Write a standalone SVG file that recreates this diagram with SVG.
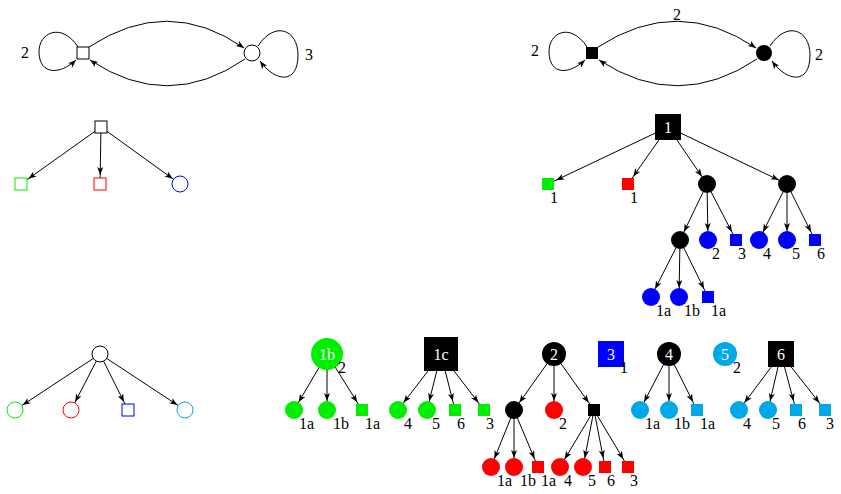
<svg xmlns="http://www.w3.org/2000/svg" width="841" height="494" viewBox="0 0 841 494">
<style>
text{font-family:"Liberation Serif","DejaVu Serif",serif;font-size:16px;fill:#000}
.w{fill:#fff;text-anchor:middle;dominant-baseline:central}
.l line,.l path{stroke:#000;stroke-width:1;fill:none}
.l line{marker-end:url(#a)}
.l path{marker-end:url(#e)}
.G{fill:#00ee00}.R{fill:#ff0000}.B{fill:#0000ff}.C{fill:#00a8e8}.K{fill:#000}
</style>
<defs>
<marker id="a" viewBox="-20 -5 30 10" markerWidth="30" markerHeight="10" refX="9" refY="0" markerUnits="userSpaceOnUse" orient="auto"><path d="M0,0 L-8,-3 L-6,0 L-8,3 z" fill="#000"/></marker>
<marker id="e" viewBox="-10 -5 20 10" markerWidth="20" markerHeight="10" refX="0" refY="0" markerUnits="userSpaceOnUse" orient="auto"><path d="M0,0 L-8,-3 L-6,0 L-8,3 z" fill="#000"/></marker>
</defs>
<g class="l" id="connectors">
<path d="M78,47 C62,22 38,32 39,53 C40,75 60,75 76,60"/>
<path d="M89,47 Q168,-5 244,48"/>
<path d="M245,59 Q168,112 90,60"/>
<path d="M258,46 C275,20 298,30 298,55 C298,85 275,82 260,61"/>
<path d="M587,47 C571,22 548,32 549,53 C550,75 569,75 585,60"/>
<path d="M598,47 Q678,-5 756,48"/>
<path d="M757,59 Q678,112 599,60"/>
<path d="M770,46 C787,20 810,30 810,55 C810,85 787,82 772,61"/>
<line x1="101" y1="127" x2="21" y2="184"/><line x1="101" y1="127" x2="100" y2="184"/><line x1="101" y1="127" x2="180" y2="184"/>
<line x1="668" y1="127" x2="548" y2="184"/><line x1="668" y1="127" x2="628" y2="184"/><line x1="668" y1="127" x2="707" y2="184"/><line x1="668" y1="127" x2="787" y2="184"/>
<line x1="707" y1="184" x2="680" y2="240"/><line x1="707" y1="184" x2="708" y2="240"/><line x1="707" y1="184" x2="736" y2="240"/>
<line x1="787" y1="184" x2="759" y2="240"/><line x1="787" y1="184" x2="787" y2="240"/><line x1="787" y1="184" x2="815" y2="240"/>
<line x1="680" y1="240" x2="651" y2="297"/><line x1="680" y1="240" x2="679" y2="297"/><line x1="680" y1="240" x2="708" y2="297"/>
<line x1="100" y1="354" x2="15" y2="410"/><line x1="100" y1="354" x2="71" y2="410"/><line x1="100" y1="354" x2="128" y2="410"/><line x1="100" y1="354" x2="185" y2="410"/>
<line x1="327" y1="354" x2="294" y2="410"/><line x1="327" y1="354" x2="327" y2="410"/><line x1="327" y1="354" x2="362" y2="410"/>
<line x1="441" y1="354" x2="398" y2="410"/><line x1="441" y1="354" x2="427" y2="410"/><line x1="441" y1="354" x2="455" y2="410"/><line x1="441" y1="354" x2="484" y2="410"/>
<line x1="554" y1="354" x2="514" y2="410"/><line x1="554" y1="354" x2="554" y2="410"/><line x1="554" y1="354" x2="594" y2="410"/>
<line x1="514" y1="410" x2="491" y2="467"/><line x1="514" y1="410" x2="514" y2="467"/><line x1="514" y1="410" x2="538" y2="467"/>
<line x1="594" y1="410" x2="560" y2="467"/><line x1="594" y1="410" x2="583" y2="467"/><line x1="594" y1="410" x2="605" y2="467"/><line x1="594" y1="410" x2="628" y2="467"/>
<line x1="669" y1="354" x2="640" y2="410"/><line x1="669" y1="354" x2="669" y2="410"/><line x1="669" y1="354" x2="697" y2="410"/>
<line x1="781" y1="354" x2="739" y2="410"/><line x1="781" y1="354" x2="768" y2="410"/><line x1="781" y1="354" x2="796" y2="410"/><line x1="781" y1="354" x2="825" y2="410"/>
</g>
<g id="g1"><rect x="77" y="47" width="12" height="12" fill="#fff" stroke="#000"/><circle cx="252" cy="53" r="8" fill="#fff" stroke="#000"/><text x="21" y="58">2</text><text x="305" y="60">3</text></g>
<g id="g2"><rect x="586" y="47" width="12" height="12" class="K"/><circle cx="764" cy="53" r="8" class="K"/><text x="673" y="20">2</text><text x="531" y="56">2</text><text x="815" y="60">2</text></g>
<g id="t1"><rect x="95" y="121" width="12" height="12" fill="#fff" stroke="#000"/><rect x="15" y="178" width="12" height="12" fill="#fff" stroke="#00ee00"/><rect x="94" y="178" width="12" height="12" fill="#fff" stroke="#f00"/><circle cx="180" cy="184" r="8" fill="#fff" stroke="#00f"/></g>
<g id="t2">
<rect x="655" y="114" width="26" height="26" class="K"/><text x="668" y="127" class="w">1</text>
<rect x="542" y="178" width="12" height="12" class="G"/><text x="550" y="203">1</text>
<rect x="622" y="178" width="12" height="12" class="R"/><text x="630" y="203">1</text>
<circle cx="707" cy="184" r="9" class="K"/><circle cx="787" cy="184" r="9" class="K"/>
<circle cx="680" cy="240" r="9" class="K"/>
<circle cx="708" cy="240" r="9" class="B"/><text x="712" y="259">2</text>
<rect x="730" y="234" width="12" height="12" class="B"/><text x="738" y="259">3</text>
<circle cx="759" cy="240" r="9" class="B"/><text x="763" y="259">4</text>
<circle cx="787" cy="240" r="9" class="B"/><text x="792" y="259">5</text>
<rect x="809" y="234" width="12" height="12" class="B"/><text x="817" y="259">6</text>
<circle cx="651" cy="297" r="9" class="B"/><text x="656" y="316">1a</text>
<circle cx="679" cy="297" r="9" class="B"/><text x="684" y="316">1b</text>
<rect x="702" y="291" width="12" height="12" class="B"/><text x="711" y="316">1a</text>
</g>
<g id="t3"><circle cx="100" cy="354" r="8" fill="#fff" stroke="#000"/><circle cx="15" cy="410" r="8" fill="#fff" stroke="#00ee00"/><circle cx="71" cy="410" r="8" fill="#fff" stroke="#f00"/><rect x="122" y="404" width="12" height="12" fill="#fff" stroke="#00f"/><circle cx="185" cy="410" r="8" fill="#fff" stroke="#00a8e8"/></g>
<g id="t4">
<circle cx="327" cy="354" r="16" class="G"/><text x="327" y="354" class="w">1b</text><text x="338" y="373">2</text>
<circle cx="294" cy="410" r="9" class="G"/><text x="299" y="429">1a</text>
<circle cx="327" cy="410" r="9" class="G"/><text x="333" y="429">1b</text>
<rect x="356" y="404" width="12" height="12" class="G"/><text x="365" y="429">1a</text>
</g>
<g id="t5">
<rect x="424" y="337" width="34" height="34" class="K"/><text x="441" y="354" class="w">1c</text>
<circle cx="398" cy="410" r="9" class="G"/><text x="404" y="429">4</text>
<circle cx="427" cy="410" r="9" class="G"/><text x="432" y="429">5</text>
<rect x="449" y="404" width="12" height="12" class="G"/><text x="457" y="429">6</text>
<rect x="478" y="404" width="12" height="12" class="G"/><text x="486" y="429">3</text>
</g>
<g id="t6">
<circle cx="554" cy="354" r="12" class="K"/><text x="554" y="354" class="w">2</text>
<circle cx="514" cy="410" r="9" class="K"/>
<circle cx="554" cy="410" r="9" class="R"/><text x="559" y="429">2</text>
<rect x="588" y="404" width="12" height="12" class="K"/>
<circle cx="491" cy="467" r="9" class="R"/><text x="497" y="486">1a</text>
<circle cx="514" cy="467" r="9" class="R"/><text x="520" y="486">1b</text>
<rect x="532" y="461" width="12" height="12" class="R"/><text x="541" y="486">1a</text>
<circle cx="560" cy="467" r="9" class="R"/><text x="564" y="486">4</text>
<circle cx="583" cy="467" r="9" class="R"/><text x="588" y="486">5</text>
<rect x="599" y="461" width="12" height="12" class="R"/><text x="607" y="486">6</text>
<rect x="622" y="461" width="12" height="12" class="R"/><text x="630" y="486">3</text>
</g>
<g id="t7"><rect x="598" y="341" width="26" height="26" class="B"/><text x="611" y="354" class="w">3</text><text x="620" y="373">1</text></g>
<g id="t8">
<circle cx="669" cy="354" r="12" class="K"/><text x="669" y="354" class="w">4</text>
<circle cx="640" cy="410" r="9" class="C"/><text x="645" y="429">1a</text>
<circle cx="669" cy="410" r="9" class="C"/><text x="674" y="429">1b</text>
<rect x="691" y="404" width="12" height="12" class="C"/><text x="700" y="429">1a</text>
</g>
<g id="t9"><circle cx="725" cy="354" r="12" class="C"/><text x="725" y="354" class="w">5</text><text x="733" y="373">2</text></g>
<g id="t10">
<rect x="768" y="341" width="26" height="26" class="K"/><text x="781" y="354" class="w">6</text>
<circle cx="739" cy="410" r="9" class="C"/><text x="743" y="429">4</text>
<circle cx="768" cy="410" r="9" class="C"/><text x="772" y="429">5</text>
<rect x="790" y="404" width="12" height="12" class="C"/><text x="798" y="429">6</text>
<rect x="819" y="404" width="12" height="12" class="C"/><text x="826" y="429">3</text>
</g>
</svg>
